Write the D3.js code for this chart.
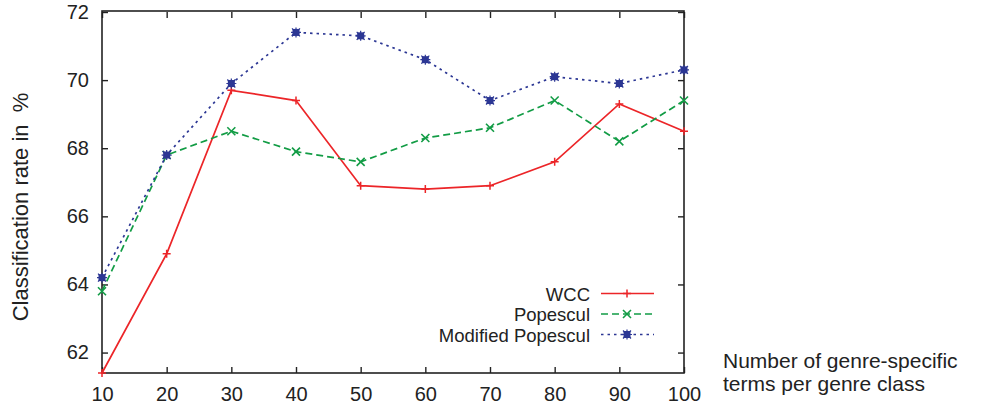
<!DOCTYPE html>
<html>
<head>
<meta charset="utf-8">
<script src="https://cdn.jsdelivr.net/npm/d3@7"></script>
<style>
  body { margin: 0; background: #fff; }
  text { font-family: "Liberation Sans", Arial, sans-serif; fill: #222; }
</style>
</head>
<body>
<script>
(function () {

    //chart data
    var terms = [10, 20, 30, 40, 50, 60, 70, 80, 90, 100];
    var wcc = [61.4, 64.9, 69.7, 69.4, 66.9, 66.8, 66.9, 67.6, 69.3, 68.5];
    var popescul = [63.8, 67.8, 68.5, 67.9, 67.6, 68.3, 68.6, 69.4, 68.2, 69.4];
    var modPopescul = [64.2, 67.8, 69.9, 71.4, 71.3, 70.6, 69.4, 70.1, 69.9, 70.3];
    var yTicks = [62, 64, 66, 68, 70, 72];
    var seriesNames = ["WCC", "Popescul", "Modified Popescul"];

    var width = 985, height = 405;
    var left = 102, right = 684, top = 12, bottom = 373;

    var svg = d3.select("body").append("svg")
        .attr("width", width)
        .attr("height", height);

    var x = d3.scaleLinear().domain([10, 100]).range([left, right]);
    var y = d3.scaleLinear().domain([61.4, 72]).range([bottom, top]);

    //series styles
    var styles = [
        { color: "#ec2528", dash: null, marker: "plus" },
        { color: "#129c45", dash: "7,4", marker: "cross" },
        { color: "#2c3794", dash: "2.5,4", marker: "star" }
    ];
    var allSeries = [wcc, popescul, modPopescul];

    //axes with inward ticks on all four sides
    var tickLen = 6;
    svg.append("g")
        .attr("transform", "translate(0," + bottom + ")")
        .call(d3.axisBottom(x).tickValues(terms).tickSizeInner(-tickLen).tickSizeOuter(0).tickPadding(14))
        .call(styleAxis);
    svg.append("g")
        .attr("transform", "translate(0," + top + ")")
        .call(d3.axisTop(x).tickValues(terms).tickSizeInner(-tickLen).tickSizeOuter(0).tickFormat(""))
        .call(styleAxis);
    svg.append("g")
        .attr("transform", "translate(" + left + ",0)")
        .call(d3.axisLeft(y).tickValues(yTicks).tickSizeInner(-tickLen).tickSizeOuter(0).tickPadding(13))
        .call(styleAxis);
    svg.append("g")
        .attr("transform", "translate(" + right + ",0)")
        .call(d3.axisRight(y).tickValues(yTicks).tickSizeInner(-tickLen).tickSizeOuter(0).tickFormat(""))
        .call(styleAxis);

    //frame
    svg.append("rect")
        .attr("x", left).attr("y", top - 1)
        .attr("width", right - left).attr("height", bottom - top + 1)
        .attr("fill", "none").attr("stroke", "#222").attr("stroke-width", 1.6);

    function styleAxis(g) {
        g.select(".domain").remove();
        g.selectAll(".tick line").attr("stroke", "#222").attr("stroke-width", 1.4);
        g.selectAll(".tick text")
            .attr("font-size", 20)
            .attr("fill", "#222")
            .attr("font-family", "Liberation Sans, Arial, sans-serif");
    }

    //markers
    function drawMarker(g, cx, cy, type, color) {
        var s = 4;
        if (type === "plus") {
            g.append("path")
                .attr("d", "M" + (cx - s) + "," + cy + "H" + (cx + s) + "M" + cx + "," + (cy - s) + "V" + (cy + s))
                .attr("stroke", color).attr("stroke-width", 1.5).attr("fill", "none");
        } else if (type === "cross") {
            g.append("path")
                .attr("d", "M" + (cx - s) + "," + (cy - s) + "L" + (cx + s) + "," + (cy + s) +
                    "M" + (cx - s) + "," + (cy + s) + "L" + (cx + s) + "," + (cy - s))
                .attr("stroke", color).attr("stroke-width", 1.6).attr("fill", "none");
        } else {
            g.append("rect")
                .attr("x", cx - 3.5).attr("y", cy - 3.5).attr("width", 7).attr("height", 7)
                .attr("fill", color);
            g.append("path")
                .attr("d", "M" + (cx - s - 1) + "," + cy + "H" + (cx + s + 1) + "M" + cx + "," + (cy - s - 1) + "V" + (cy + s + 1) +
                    "M" + (cx - s) + "," + (cy - s) + "L" + (cx + s) + "," + (cy + s) +
                    "M" + (cx - s) + "," + (cy + s) + "L" + (cx + s) + "," + (cy - s))
                .attr("stroke", color).attr("stroke-width", 1.2).attr("fill", "none");
        }
    }

    //lines
    var line = d3.line()
        .x(function (d, i) { return x(terms[i]); })
        .y(function (d) { return y(d); });

    allSeries.forEach(function (vals, k) {
        var st = styles[k];
        var g = svg.append("g").attr("class", "series");
        g.append("path")
            .datum(vals)
            .attr("d", line)
            .attr("fill", "none")
            .attr("stroke", st.color)
            .attr("stroke-width", 1.7)
            .attr("stroke-dasharray", st.dash);
        vals.forEach(function (v, i) {
            drawMarker(g, x(terms[i]), y(v), st.marker, st.color);
        });
    });

    //legend
    var legY = [293.5, 314, 334.5];
    seriesNames.forEach(function (name, k) {
        var st = styles[k];
        var g = svg.append("g");
        g.append("text")
            .attr("x", 590).attr("y", legY[k] + 7)
            .attr("text-anchor", "end")
            .attr("font-size", 18.5)
            .text(name);
        g.append("line")
            .attr("x1", 601).attr("x2", 654)
            .attr("y1", legY[k]).attr("y2", legY[k])
            .attr("stroke", st.color)
            .attr("stroke-width", 1.7)
            .attr("stroke-dasharray", st.dash);
        drawMarker(g, 627, legY[k], st.marker, st.color);
    });

    //axis titles
    svg.append("text")
        .attr("transform", "translate(28,207) rotate(-90)")
        .attr("text-anchor", "middle")
        .attr("font-size", 22)
        .attr("xml:space", "preserve")
        .style("white-space", "pre")
        .text("Classification rate in  %");

    var xTitle = svg.append("text")
        .attr("x", 723).attr("y", 368)
        .attr("font-size", 21);
    xTitle.append("tspan").attr("x", 723).attr("y", 368).text("Number of genre-specific");
    xTitle.append("tspan").attr("x", 723).attr("y", 391).text("terms per genre class");

})();
</script>
</body>
</html>
